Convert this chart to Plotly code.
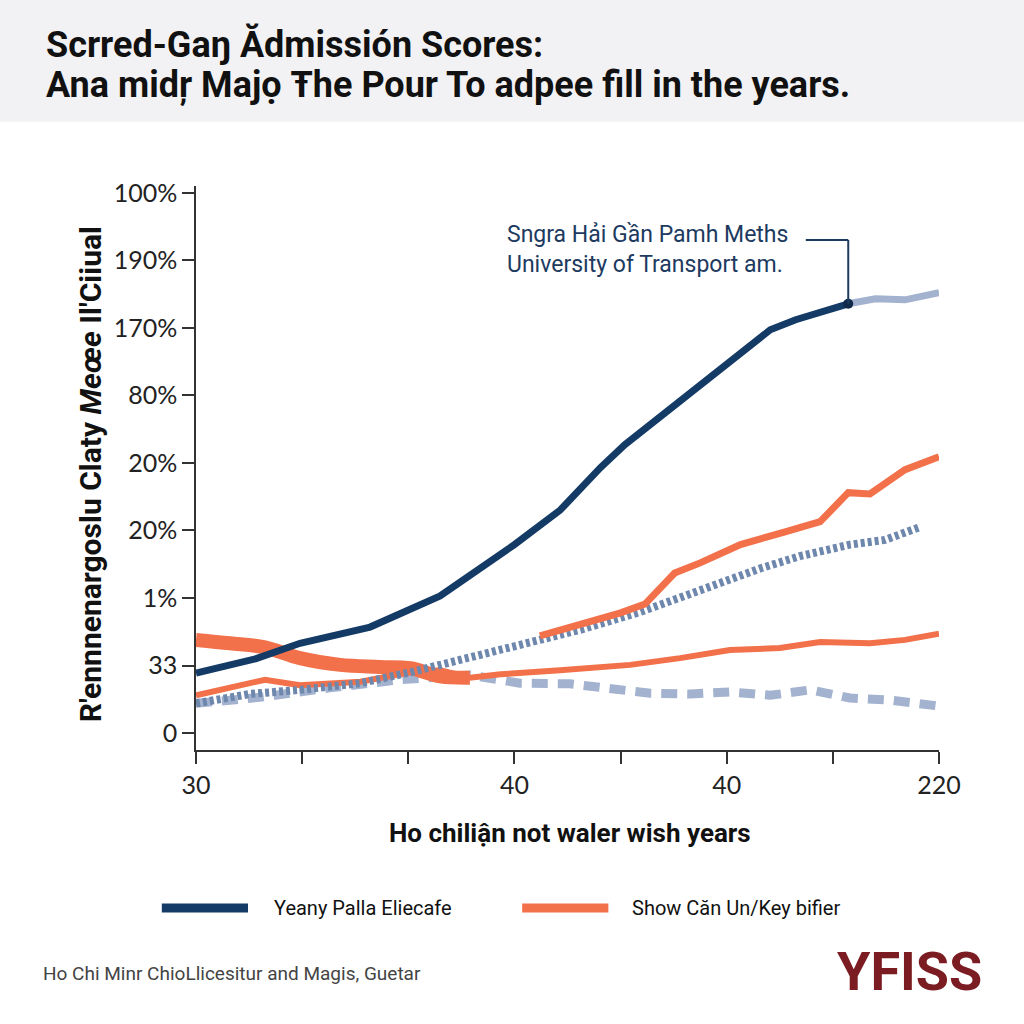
import plotly.graph_objects as go

# ---------------- data ----------------
x_ticks = [0, 1, 2, 3, 4, 5, 6, 7]
x_ticktext = ["30", "", "", "40", "", "40", "", "220"]
y_ticks = [0, 1, 2, 3, 4, 5, 6, 7, 8]
y_ticktext = ["0", "33", "1%", "20%", "20%", "80%", "170%", "190%", "100%"]

navy_x = [0, 0.56, 0.98, 1.64, 2.30, 2.64, 3.00, 3.43, 3.81, 4.04, 4.37, 4.65, 4.99, 5.18, 5.41, 5.65, 6.145]
navy_y = [0.89, 1.10, 1.33, 1.57, 2.03, 2.39, 2.79, 3.30, 3.93, 4.27, 4.68, 5.00, 5.42, 5.67, 5.97, 6.12, 6.356]

navy_ext_x = [6.145, 6.40, 6.68, 7.0]
navy_ext_y = [6.356, 6.43, 6.415, 6.52]

band_x = [0, 0.32, 0.65, 0.98, 1.36, 1.73, 2.02, 2.30, 2.58]
band_y = [1.38, 1.33, 1.27, 1.11, 1.01, 0.98, 0.96, 0.84, 0.82]

orange_low_x = [0, 0.65, 0.98, 1.55, 2.02, 2.30, 2.58, 2.87, 3.43, 4.09, 4.56, 5.03, 5.50, 5.88, 6.35, 6.68, 7.0]
orange_low_y = [0.56, 0.79, 0.71, 0.76, 0.90, 0.93, 0.82, 0.87, 0.93, 1.01, 1.11, 1.23, 1.26, 1.35, 1.33, 1.38, 1.47]

orange_up_x = [3.24, 3.62, 4.00, 4.23, 4.37, 4.51, 4.75, 5.13, 5.55, 5.88, 6.145, 6.35, 6.68, 7.0]
orange_up_y = [1.44, 1.60, 1.78, 1.91, 2.15, 2.37, 2.52, 2.79, 2.98, 3.13, 3.56, 3.54, 3.90, 4.09]

dot_x = [0, 0.51, 0.98, 1.55, 2.02, 2.49, 3.05, 3.62, 4.18, 4.75, 5.32, 5.69, 6.16, 6.49, 6.82]
dot_y = [0.44, 0.58, 0.64, 0.74, 0.90, 1.08, 1.30, 1.53, 1.79, 2.12, 2.44, 2.62, 2.79, 2.86, 3.05]

dash_x = [0, 0.60, 1.26, 1.92, 2.58, 3.05, 3.52, 3.90, 4.28, 4.66, 5.03, 5.41, 5.79, 6.16, 6.54, 7.0]
dash_y = [0.44, 0.53, 0.67, 0.79, 0.86, 0.74, 0.73, 0.67, 0.59, 0.58, 0.61, 0.56, 0.64, 0.52, 0.49, 0.40]

title_1 = "Scrred-Gaŋ Ădmissión Scores:"
title_2 = "Ana midŗ Majọ Ŧhe Pour To adpee fill in the years."
y_title = "R'ennnenargoslu Claty <i>Meœe</i> Il'Ciiual"
x_title = "Ho chiliận not waler wish years"
callout = "Sngra Hải Gần Pamh Meths<br>University of Transport am."
legend_names = ["Yeany Palla Eliecafe", "Show Căn Un/Key bifier"]
footer = "Ho Chi Minr ChioLlicesitur and Magis, Guetar"
brand = "YFISS"

NAVY = "#143a66"
ORANGE = "#f2714a"
DOT = "#6e87ad"
LIGHT = "#a3b2ce"

fig = go.Figure()
fig.add_trace(go.Scatter(x=dash_x, y=dash_y, mode="lines",
                         line=dict(color=LIGHT, width=9, dash="16px,10px"), showlegend=False))
fig.add_trace(go.Scatter(x=band_x, y=band_y, mode="lines",
                         line=dict(color=ORANGE, width=14, shape="spline"), showlegend=False))
fig.add_trace(go.Scatter(x=orange_low_x, y=orange_low_y, mode="lines",
                         line=dict(color=ORANGE, width=6), showlegend=False))
fig.add_trace(go.Scatter(x=dot_x, y=dot_y, mode="lines",
                         line=dict(color=DOT, width=8, dash="4px,3px"), showlegend=False))
fig.add_trace(go.Scatter(x=orange_up_x, y=orange_up_y, mode="lines",
                         line=dict(color=ORANGE, width=7), showlegend=False))
fig.add_trace(go.Scatter(x=navy_ext_x, y=navy_ext_y, mode="lines",
                         line=dict(color=LIGHT, width=7), showlegend=False))
fig.add_trace(go.Scatter(x=navy_x, y=navy_y, mode="lines",
                         line=dict(color=NAVY, width=7), showlegend=False))
fig.add_trace(go.Scatter(x=[navy_x[-1]], y=[navy_y[-1]], mode="markers",
                         marker=dict(color="#0f2a4a", size=10), showlegend=False))

# callout connector derived from last navy point
cx, cy = navy_x[-1], navy_y[-1]
ann_y = 7.30
fig.add_shape(type="line", xref="x", yref="y", x0=cx - 0.4, y0=ann_y, x1=cx, y1=ann_y,
              line=dict(color="#1d3a5f", width=2))
fig.add_shape(type="line", xref="x", yref="y", x0=cx, y0=ann_y, x1=cx, y1=cy,
              line=dict(color="#1d3a5f", width=2))
fig.add_annotation(x=2.91, y=7.16, xref="x", yref="y", text=callout, showarrow=False,
                   xanchor="left", yanchor="middle", align="left",
                   font=dict(family="Roboto", size=23, color="#1d3a5f"))

# title banner
fig.add_shape(type="rect", xref="paper", yref="paper", x0=-0.27, x1=1.12, y0=1.114, y1=1.34,
              fillcolor="#f2f2f4", line=dict(width=0), layer="below")
fig.add_annotation(x=-0.2045, y=1.2505, xref="paper", yref="paper", text="<b>" + title_1 + "</b>",
                   showarrow=False, xanchor="left", yanchor="middle",
                   font=dict(family="Roboto", size=36, color="#111111"))
fig.add_annotation(x=-0.2045, y=1.179, xref="paper", yref="paper", text="<b>" + title_2 + "</b>",
                   showarrow=False, xanchor="left", yanchor="middle",
                   font=dict(family="Roboto", size=36, color="#111111"))

# axis titles
fig.add_annotation(x=-0.142, y=0.49, xref="paper", yref="paper", text="<b>" + y_title + "</b>",
                   showarrow=False, textangle=-90, xanchor="center", yanchor="middle",
                   font=dict(family="Roboto", size=30, color="#111111"))
fig.add_annotation(x=0.503, y=-0.147, xref="paper", yref="paper", text="<b>" + x_title + "</b>",
                   showarrow=False, xanchor="center", yanchor="middle",
                   font=dict(family="Roboto", size=26, color="#111111"))

# legend (manual)
leg_y = -0.2803
fig.add_shape(type="line", xref="paper", yref="paper", x0=-0.046, x1=0.07, y0=leg_y, y1=leg_y,
              line=dict(color=NAVY, width=9))
fig.add_annotation(x=0.102, y=leg_y, xref="paper", yref="paper", text=legend_names[0],
                   showarrow=False, xanchor="left", yanchor="middle",
                   font=dict(family="Roboto", size=20, color="#111111"))
fig.add_shape(type="line", xref="paper", yref="paper", x0=0.439, x1=0.555, y0=leg_y, y1=leg_y,
              line=dict(color=ORANGE, width=9))
fig.add_annotation(x=0.584, y=leg_y, xref="paper", yref="paper", text=legend_names[1],
                   showarrow=False, xanchor="left", yanchor="middle",
                   font=dict(family="Roboto", size=20, color="#111111"))

# footer
fig.add_annotation(x=-0.208, y=-0.3955, xref="paper", yref="paper", text=footer,
                   showarrow=False, xanchor="left", yanchor="middle",
                   font=dict(family="Roboto", size=19, color="#444444"))
fig.add_annotation(x=0.96, y=-0.392, xref="paper", yref="paper", text="<b>" + brand + "</b>",
                   showarrow=False, xanchor="center", yanchor="middle",
                   font=dict(family="Roboto", size=54, color="#7a1c22"))

fig.update_layout(
    width=1024, height=1024,
    margin=dict(l=196, r=85, t=186, b=274, autoexpand=False),
    paper_bgcolor="white", plot_bgcolor="white",
    showlegend=False,
    xaxis=dict(range=[0, 7], tickvals=x_ticks, ticktext=x_ticktext, showgrid=False, zeroline=False,
               showline=True, linecolor="#333333", linewidth=1.5, ticks="outside", ticklen=12,
               tickwidth=1.5, tickcolor="#333333",
               tickfont=dict(family="Lato", size=25, color="#222222")),
    yaxis=dict(range=[-0.25, 8.1], tickvals=y_ticks, ticktext=y_ticktext, showgrid=False,
               zeroline=False, showline=True, linecolor="#333333", linewidth=1.5,
               ticks="outside", ticklen=12, tickwidth=1.5, tickcolor="#333333",
               tickfont=dict(family="Lato", size=25, color="#222222")),
)

fig.write_html("out.html", config={"displayModeBar": False},
               post_script="document.body.style.margin='0px';")
